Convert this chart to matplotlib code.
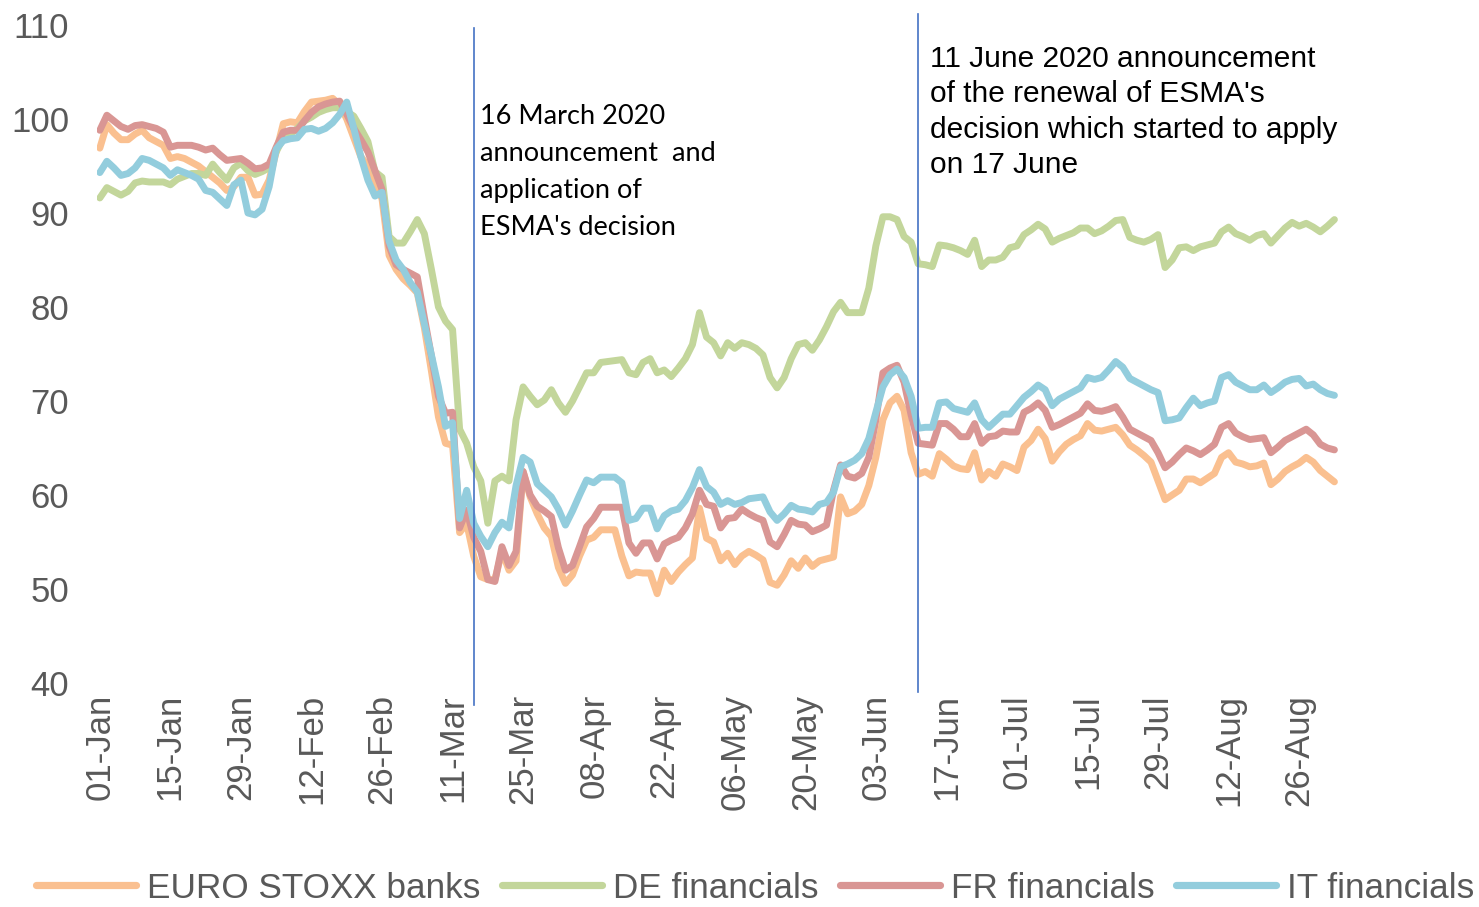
import matplotlib
matplotlib.use("Agg")
import matplotlib.pyplot as plt
import pandas as pd

# business days, 01-Jan-2020 .. 02-Sep-2020 (index = 1 Jan 2020 = 100)
dates = pd.bdate_range("2020-01-01", "2020-09-02")

euro_stoxx_banks = [
    96.9, 99.4, 98.5, 97.8, 97.8, 98.4, 98.8, 98.0, 97.6, 97.2,
    95.8, 96.0, 95.8, 95.4, 95.0, 94.4, 93.8, 93.2, 92.4, 92.8,
    93.8, 93.8, 91.9, 92.0, 93.5, 96.5, 99.5, 99.7, 99.6, 100.8,
    101.8, 101.9, 102.0, 102.2, 101.5, 100.0, 98.0, 96.0, 95.0, 93.5,
    91.5, 85.5, 84.0, 83.0, 82.3, 81.5, 77.8, 73.2, 68.3, 65.5,
    65.3, 56.0, 57.0, 53.5, 51.3, 51.0, 51.0, 54.0, 52.0, 53.0,
    62.5, 59.8, 58.0, 56.5, 55.6, 52.3, 50.6, 51.5, 53.5, 55.2,
    55.5, 56.3, 56.3, 56.3, 53.5, 51.4, 51.8, 51.7, 51.7, 49.5,
    52.0, 50.8, 51.8, 52.6, 53.3, 58.6, 55.4, 55.0, 53.0, 53.8,
    52.6, 53.5, 54.0, 53.6, 53.1, 50.7, 50.4, 51.5, 53.0, 52.2,
    53.3, 52.4, 53.0, 53.2, 53.4, 59.8, 58.0, 58.3, 59.0, 61.0,
    64.0, 68.0, 69.8, 70.5, 69.0, 64.5, 62.2, 62.5, 62.0, 64.4,
    63.8, 63.1, 62.8, 62.7, 64.5, 61.6, 62.5, 62.0, 63.3, 63.0,
    62.6, 65.1, 65.8, 67.0, 66.0, 63.6, 64.6, 65.4, 65.9, 66.3,
    67.6, 66.9, 66.8, 67.0, 67.2, 66.4, 65.3, 64.8, 64.2, 63.5,
    61.5, 59.5, 60.0, 60.5, 61.7, 61.7, 61.3, 61.8, 62.3, 64.0,
    64.5, 63.5, 63.3, 63.0, 63.1, 63.4, 61.1, 61.7, 62.5, 63.0,
    63.4, 64.0, 63.5, 62.6, 62.0, 61.4,
]

de_financials = [
    91.6, 92.7, 92.3, 91.9, 92.3, 93.2, 93.4, 93.3, 93.3, 93.3,
    93.0, 93.6, 93.9, 94.2, 94.2, 94.0, 95.2, 94.3, 93.5, 94.8,
    95.3, 94.5, 94.1, 94.4, 94.8, 96.5, 98.0, 98.4, 99.0, 99.8,
    100.2, 100.7, 101.0, 101.2, 101.2, 100.8, 100.3, 99.0, 97.6, 94.4,
    93.8, 87.5, 86.8, 86.8, 88.0, 89.3, 87.8, 84.0, 80.0, 78.5,
    77.6, 67.0, 65.5, 63.0, 61.5, 57.0, 61.5, 62.0, 61.5, 68.0,
    71.5, 70.5, 69.6, 70.1, 71.2, 69.8, 68.8, 70.0, 71.5, 73.0,
    73.0, 74.1, 74.2, 74.3, 74.4, 73.0, 72.8, 74.1, 74.5, 73.0,
    73.3, 72.6, 73.5, 74.5, 76.0, 79.4, 76.8, 76.2, 74.8, 76.2,
    75.6, 76.2, 76.0, 75.6, 74.9, 72.5, 71.4, 72.5, 74.5, 76.0,
    76.2, 75.4, 76.5, 77.9, 79.5, 80.5, 79.4, 79.4, 79.4, 82.0,
    86.5, 89.6, 89.6, 89.3, 87.5, 86.9, 84.6, 84.5, 84.3, 86.6,
    86.5, 86.3, 86.0, 85.6, 87.1, 84.3, 85.0, 85.0, 85.3, 86.3,
    86.5, 87.7, 88.2, 88.8, 88.3, 86.9, 87.3, 87.6, 87.9, 88.4,
    88.4, 87.8, 88.1, 88.6, 89.2, 89.3, 87.4, 87.1, 86.9, 87.2,
    87.7, 84.2, 85.0, 86.3, 86.4, 86.0, 86.4, 86.6, 86.8, 88.0,
    88.5, 87.8, 87.5, 87.1, 87.6, 87.8, 86.8, 87.6, 88.4, 89.0,
    88.6, 88.9, 88.5, 88.0, 88.6, 89.3,
]

fr_financials = [
    98.8, 100.4, 99.8, 99.2, 98.9, 99.3, 99.4, 99.2, 99.0, 98.6,
    97.0, 97.2, 97.2, 97.2, 97.0, 96.7, 96.9, 96.2, 95.6, 95.7,
    95.8, 95.3, 94.7, 94.8, 95.2, 97.0, 98.6, 98.8, 98.8, 99.8,
    100.7, 101.3, 101.6, 101.8, 101.9, 100.5, 99.0, 97.8, 96.5, 94.5,
    92.5, 86.5, 84.5, 84.0, 83.6, 83.2, 78.9, 74.8, 70.5, 68.7,
    68.8, 56.5, 58.4, 55.5, 54.0, 51.0, 50.8, 54.5, 52.5, 54.0,
    62.5, 60.0, 58.8, 58.3, 57.7, 54.4, 52.0, 52.5, 54.5, 56.6,
    57.5, 58.7, 58.7, 58.7, 58.7, 54.9, 53.8, 54.9, 54.9, 53.2,
    54.8, 55.2, 55.5, 56.5, 58.0, 60.5, 59.0, 58.8, 56.5, 57.5,
    57.6, 58.5, 58.0, 57.6, 57.3, 55.0, 54.5, 55.8, 57.3, 56.9,
    56.8, 56.1, 56.4, 56.8, 60.5, 63.2, 62.0, 61.8, 62.3, 64.0,
    68.0, 73.0, 73.5, 73.8, 72.0, 68.5, 65.5, 65.4, 65.3, 67.6,
    67.6, 67.0, 66.2, 66.2, 67.6, 65.5, 66.2, 66.3, 66.8, 66.7,
    66.7, 68.8, 69.2, 69.8, 69.0, 67.2, 67.5, 67.9, 68.3, 68.7,
    69.7, 69.0, 68.9, 69.1, 69.4, 68.3, 67.0, 66.6, 66.2, 65.8,
    64.5, 62.9, 63.5, 64.3, 65.0, 64.7, 64.3, 64.8, 65.4, 67.2,
    67.6, 66.6, 66.2, 65.9, 66.0, 66.1, 64.5, 65.1, 65.8, 66.2,
    66.6, 67.0, 66.4, 65.4, 65.0, 64.8,
]

it_financials = [
    94.3, 95.5, 94.8, 94.0, 94.2, 94.8, 95.8, 95.6, 95.2, 94.8,
    94.0, 94.6, 94.3, 94.0, 93.6, 92.4, 92.2, 91.5, 90.8, 93.0,
    93.5, 90.0, 89.8, 90.4, 92.8, 96.8, 97.7, 97.9, 98.0, 98.9,
    99.0, 98.7, 99.0, 99.6, 100.5, 101.8, 99.0, 96.0, 93.5, 91.8,
    92.2, 87.0, 85.0, 84.0, 82.6, 81.6, 78.2, 74.9, 71.5, 67.3,
    67.7, 57.5, 60.5, 57.0, 55.6, 54.5, 56.0, 57.1, 56.5, 61.0,
    64.0, 63.5, 61.2, 60.5, 59.8, 58.5, 56.8, 58.3, 60.0, 61.6,
    61.3, 61.9, 61.9, 61.9, 61.3, 57.3, 57.5, 58.6, 58.6, 56.4,
    57.8, 58.3, 58.5, 59.4, 60.8, 62.7, 60.9, 60.3, 59.0, 59.4,
    59.0, 59.2, 59.6, 59.7, 59.8, 58.2, 57.3, 58.0, 58.9, 58.5,
    58.4, 58.2, 59.0, 59.2, 60.3, 63.0, 63.3, 63.7, 64.4, 66.0,
    68.8, 71.5, 72.8, 73.4, 72.5, 70.5, 67.1, 67.2, 67.2, 69.8,
    69.9, 69.2, 69.0, 68.8, 69.8, 68.0, 67.2, 67.9, 68.6, 68.6,
    69.5, 70.4, 71.0, 71.7, 71.2, 69.5, 70.2, 70.6, 71.0, 71.4,
    72.5, 72.3, 72.5, 73.3, 74.2, 73.6, 72.4, 72.0, 71.6, 71.2,
    70.9, 67.9, 68.0, 68.2, 69.3, 70.3, 69.5, 69.8, 70.0, 72.5,
    72.8, 72.0, 71.6, 71.2, 71.2, 71.7, 70.9, 71.4, 72.0, 72.3,
    72.4, 71.6, 71.8, 71.2, 70.8, 70.6,
]

series_names = ["EURO STOXX banks", "DE financials", "FR financials", "IT financials"]
colors = ["#FAC090", "#C3D69B", "#D99694", "#93CDDD"]

event_dates = ["2020-03-16", "2020-06-11"]
event_texts = [
    "16 March 2020\nannouncement  and\napplication of\nESMA's decision",
    "11 June 2020 announcement\nof the renewal of ESMA's\ndecision which started to apply\non 17 June",
]

grey = "#595959"
fig = plt.figure(figsize=(14.79, 9.07), dpi=100)
ax = fig.add_axes([97 / 1479, 1 - 683 / 907, 1248 / 1479, 658 / 907])

x = list(range(len(dates)))
all_series = [euro_stoxx_banks, de_financials, fr_financials, it_financials]
for vals, name, c in zip(all_series, series_names, colors):
    ax.plot(x, vals, color=c, lw=5, label=name, solid_joinstyle="round",
            solid_capstyle="round")

ax.set_xlim(-0.4, len(dates) + 0.5)
ax.set_ylim(40, 110)
ax.set_yticks(range(40, 111, 10))
ticks = x[::10]
ax.set_xticks(ticks)
ax.set_xticklabels([dates[i].strftime("%d-%b") for i in ticks], rotation=90)
ax.tick_params(axis="both", length=0, colors=grey, labelsize=25)
ax.tick_params(axis="y", pad=20)
ax.tick_params(axis="x", pad=8)
for lab in ax.get_xticklabels() + ax.get_yticklabels():
    lab.set_fontfamily("Liberation Sans")
for s in ax.spines.values():
    s.set_visible(False)

# event markers
ev_idx = [dates.get_loc(pd.Timestamp(d)) for d in event_dates]
ax.axvline(ev_idx[0], ymin=-0.033, ymax=0.995, color="#4472C4", lw=1.2, clip_on=False)
ax.axvline(ev_idx[1], ymin=-0.014, ymax=1.017, color="#4472C4", lw=1.2, clip_on=False)

fig.text(480 / 1479, 1 - 104 / 907, event_texts[0], fontsize=19.5, family="Lato",
         va="top", ha="left", linespacing=1.6, color="black")
fig.text(930 / 1479, 1 - 45 / 907, event_texts[1], fontsize=21.5, family="Liberation Sans",
         va="top", ha="left", linespacing=1.34, color="black")

leg = fig.legend(loc="center", bbox_to_anchor=(755 / 1479, 1 - 888 / 907), ncol=4,
                 frameon=False, handlelength=2.85, handletextpad=0.3, columnspacing=0.62,
                 prop={"family": "Liberation Sans", "size": 25.3})
for t in leg.get_texts():
    t.set_color(grey)
for h in leg.get_lines():
    h.set_linewidth(5.2)

fig.savefig("out.png", dpi=100)
